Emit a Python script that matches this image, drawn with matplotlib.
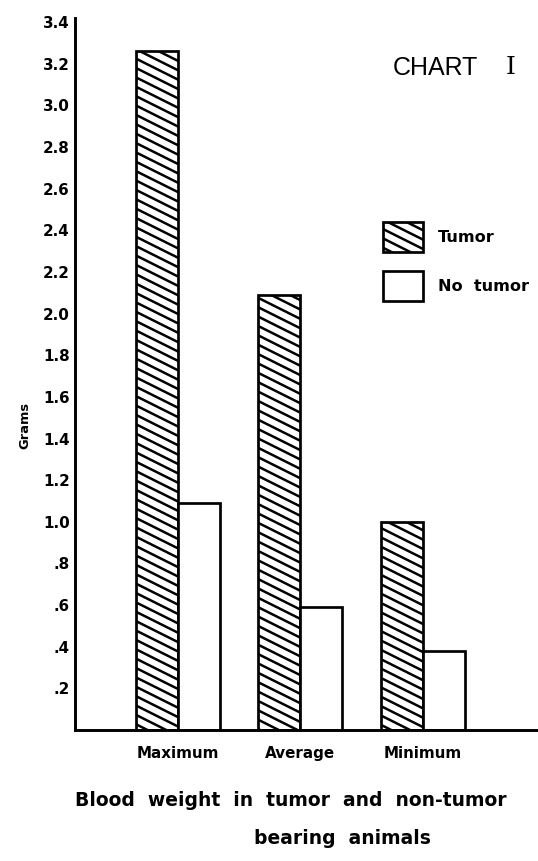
import matplotlib
matplotlib.use("Agg")
import matplotlib.pyplot as plt
import matplotlib.hatch as mhatch
from matplotlib.path import Path
import numpy as np

categories = ["Maximum", "Average", "Minimum"]
tumor = [3.26, 2.09, 1.00]
no_tumor = [1.09, 0.59, 0.38]
ytick_values = [0.2, 0.4, 0.6, 0.8, 1.0, 1.2, 1.4, 1.6, 1.8, 2.0, 2.2, 2.4, 2.6, 2.8, 3.0, 3.2, 3.4]
ytick_labels = [".2", ".4", ".6", ".8", "1.0", "1.2", "1.4", "1.6", "1.8", "2.0",
                "2.2", "2.4", "2.6", "2.8", "3.0", "3.2", "3.4"]
series_labels = ["Tumor", "No  tumor"]


# Shallow "\" hatch (slope 1:2), like the hand-drawn original
class ShallowSouthEastHatch(mhatch.HatchPatternBase):
    def __init__(self, hatch, density):
        n = hatch.count('\\')
        self.N = int(n * 8)
        if self.N:
            self.ks = np.arange(-1, int(1.5 * self.N) + 2)
            self.num_vertices = len(self.ks) * 2
        else:
            self.num_vertices = 0

    def set_vertices_and_codes(self, vertices, codes):
        b = self.ks / self.N
        x0, x1 = -0.1, 1.1
        vertices[0::2, 0] = x0
        vertices[0::2, 1] = b - 0.5 * x0
        vertices[1::2, 0] = x1
        vertices[1::2, 1] = b - 0.5 * x1
        codes[0::2] = Path.MOVETO
        codes[1::2] = Path.LINETO


mhatch._hatch_types = [ShallowSouthEastHatch if t is mhatch.SouthEastHatch else t
                       for t in mhatch._hatch_types]

W, H, DPI = 538, 861, 75
plt.rcParams['hatch.linewidth'] = 2.4
plt.rcParams['font.family'] = ['DejaVu Sans']

fig = plt.figure(figsize=(W / DPI, H / DPI), dpi=DPI)
ax = fig.add_axes([75 / W, (H - 730) / H, 1 - 75 / W, (730 - 18) / H])

x = np.arange(len(categories))
bw = 0.343
b1 = ax.bar(x - bw / 2, tumor, bw, facecolor='white', edgecolor='black',
            linewidth=2.6, hatch='\\', label=series_labels[0])
b2 = ax.bar(x + bw / 2, no_tumor, bw, facecolor='white', edgecolor='black',
            linewidth=2.6, label=series_labels[1])

ax.set_xlim(-0.84, 2.94)
ax.set_ylim(0, 3.42)
ax.set_xticks(x)
ax.set_xticklabels(categories, fontsize=14.5, fontweight='bold')
ax.set_yticks(ytick_values)
ax.set_yticklabels(ytick_labels, fontsize=14.5, fontweight='bold')
ax.tick_params(axis='both', length=0)
ax.tick_params(axis='x', pad=15)
ax.tick_params(axis='y', pad=5)
for s in ['top', 'right']:
    ax.spines[s].set_visible(False)
for s in ['left', 'bottom']:
    ax.spines[s].set_linewidth(2.8)

fs_leg = 15.5
f_px = fs_leg * DPI / 72
leg = ax.legend(handles=[b1, b2], loc='upper left',
                bbox_to_anchor=(383 / W, 1 - 222 / H), bbox_transform=fig.transFigure,
                frameon=False, borderpad=0, borderaxespad=0,
                handlelength=40 / f_px, handleheight=2.48, labelspacing=1.18,
                handletextpad=0.93, prop={'weight': 'bold', 'size': fs_leg})

fig.text(25 / W, 1 - 426 / H, "Grams", rotation=90, ha='center', va='center',
         fontsize=12.5, fontweight='bold')
fig.text(393 / W, 1 - 68 / H, "CHART", ha='left', va='center', fontsize=24,
         family='Liberation Sans')
fig.text(511 / W, 1 - 68 / H, "I", ha='center', va='center', fontsize=24,
         family='DejaVu Serif')
fig.text(291 / W, 1 - 800 / H, "Blood  weight  in  tumor  and  non-tumor",
         ha='center', va='center', fontsize=18, fontweight='bold')
fig.text(342 / W, 1 - 838 / H, "bearing  animals",
         ha='center', va='center', fontsize=18, fontweight='bold')

fig.savefig("out.png", dpi=DPI, facecolor='white')
